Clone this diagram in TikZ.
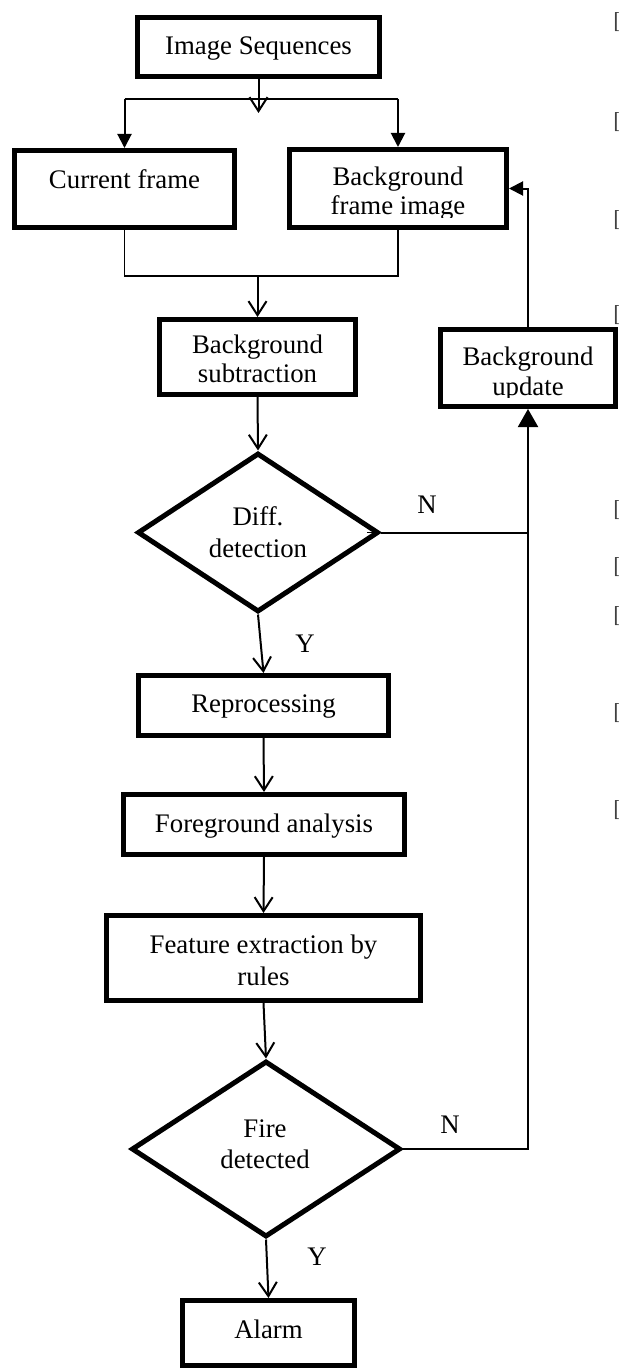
\documentclass[tikz,border=0pt]{standalone}
\usepackage{fontspec}
\setmainfont{Liberation Serif}
\usetikzlibrary{shapes.geometric,arrows.meta,calc}
\begin{document}
\begin{tikzpicture}[x=0.5pt,y=-0.5pt,
  box/.style={draw,line width=2.5pt,rectangle,inner sep=0pt},
  dia/.style={draw,line width=2.5pt,diamond,inner sep=0pt,aspect=1.5},
  txt/.style={anchor=base,inner sep=0pt,font=\fontsize{13.4pt}{15pt}\selectfont},
  conn/.style={line width=1pt},
  thinln/.style={line width=0.7pt},
  vtip/.style={-{Straight Barb[length=7pt,width=9pt]}},
  ttip/.style={-{Triangle[length=7pt,width=7pt]}},
  bigtip/.style={-{Triangle[length=9pt,width=10pt]}},
  brk/.style={anchor=base west,inner sep=0pt,text=black!75,font=\fontsize{11.5pt}{13pt}\selectfont}]
\useasboundingbox (0,0) rectangle (619,1370);

% boxes
\node[box,minimum width=121pt,minimum height=29.5pt] (is) at (258.5,47) {};
\node[box,minimum width=110pt,minimum height=38.5pt] (cf) at (124.5,189) {};
\node[box,minimum width=108.5pt,minimum height=39pt] (bf) at (398,188.5) {};
\node[box,minimum width=98pt,minimum height=37.5pt] (bs) at (257.5,357) {};
\node[box,minimum width=87.5pt,minimum height=38.5pt] (bu) at (528,368) {};
\node[dia,minimum width=120.5pt,minimum height=79.5pt] (diff) at (258,532.5) {};
\node[box,minimum width=125pt,minimum height=30pt] (rp) at (263.5,705.5) {};
\node[box,minimum width=140.5pt,minimum height=30pt] (fa) at (264,824.5) {};
\node[box,minimum width=157pt,minimum height=42.5pt] (fe) at (263.5,958) {};
\node[dia,minimum width=134.5pt,minimum height=88pt] (fire) at (266,1149) {};
\node[box,minimum width=86pt,minimum height=32.5pt] (al) at (268.5,1333) {};

% texts
\node[txt] (tis) at (258.5,55) {Image Sequences};
\node[txt] (tcf) at (124.5,188) {Current frame};
\begin{scope}
  \clip (290,150) rectangle (506,217);
  \node[txt] (tbf1) at (398,185) {Background};
  \node[txt] (tbf2) at (398,214) {frame image};
\end{scope}
\begin{scope}
  \clip (160,320) rectangle (355,383);
  \node[txt] (tbs1) at (257.5,353) {Background};
  \node[txt] (tbs2) at (257.5,382) {subtraction};
\end{scope}
\begin{scope}
  \clip (441,330) rectangle (615,397);
  \node[txt] (tbu1) at (528,365) {Background};
  \node[txt] (tbu2) at (528,395) {update};
\end{scope}
\node[txt] (td1) at (258,525) {Diff.};
\node[txt] (td2) at (258,557) {detection};
\node[txt] (trp) at (263.5,712) {Reprocessing};
\node[txt] (tfa) at (264,832) {Foreground analysis};
\node[txt] (tfe1) at (263.5,953) {Feature extraction by};
\node[txt] (tfe2) at (263.5,985) {rules};
\node[txt] (tfi1) at (265,1137) {Fire};
\node[txt] (tfi2) at (265,1168) {detected};
\node[txt] (tal) at (268.5,1338) {Alarm};
\node[txt] (n1) at (427,513) {N};
\node[txt] (n2) at (450,1133) {N};
\node[txt] (y1) at (305,652) {Y};
\node[txt] (y2) at (317,1265) {Y};

% connectors
\coordinate (sl) at (124.5,99);
\coordinate (sr) at (398,99);
\coordinate (jn) at (257.5,276);
\coordinate (nj) at (528,532.5);
\draw[conn,vtip] (is.south) -- ++(0,34);
\draw[conn] (sl) -- (sr);
\draw[conn,ttip] (sl) -- (cf.north);
\draw[conn,ttip] (sr) -- (bf.north);
\draw[thinln] (cf.south) |- (jn) -| (bf.south);
\draw[conn,vtip] (jn) -- (bs.north);
\draw[conn,vtip] (bs.south) -- (diff.north);
\draw[conn,bigtip] (diff.east) -- (nj) -- (bu.south);
\draw[thinln,-{Straight Barb[length=4pt,width=5pt]}] ($(diff.east)+(-14,0)$) -- (diff.east);
\draw[conn,ttip] (bu.north) -- (bu.north |- bf.east) -- (bf.east);
\draw[conn,vtip] (diff.south) -- (rp.north);
\draw[conn,vtip] (rp.south) -- (fa.north);
\draw[conn,vtip] (fa.south) -- (fe.north);
\draw[conn,vtip] (fe.south) -- (fire.north);
\draw[thinln] (fire.east) -| (nj);
\draw[conn,vtip] (fire.south) -- (al.north);

% clipped glyph marks at the right edge
\foreach \yb in {29,128,226,321,516,573,622,719,816}
  \node[brk] at (613,\yb) {[};
\end{tikzpicture}
\end{document}
